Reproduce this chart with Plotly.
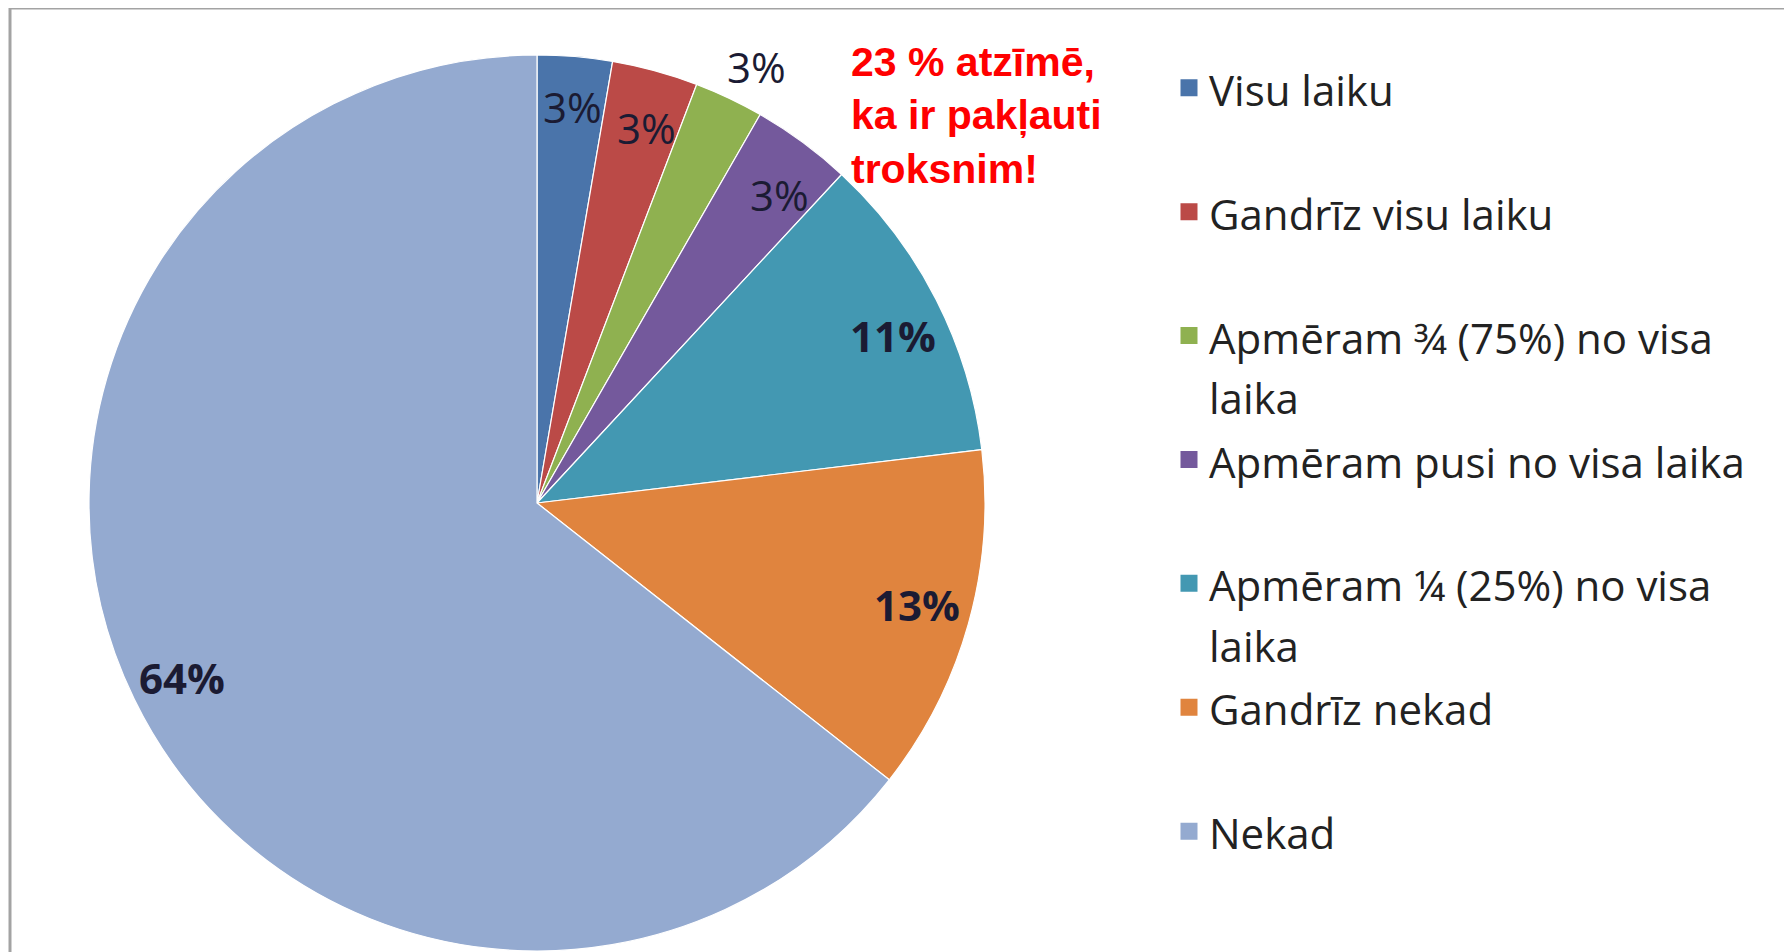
import math
import plotly.graph_objects as go

# ---- data ----
categories = [
    "Visu laiku",
    "Gandrīz visu laiku",
    "Apmēram ¾ (75%) no visa laika",
    "Apmēram pusi no visa laika",
    "Apmēram ¼ (25%) no visa laika",
    "Gandrīz nekad",
    "Nekad",
]
values = [2.7, 3.1, 2.5, 3.6, 11.2, 12.5, 64.4]
value_labels = ["3%", "3%", "3%", "3%", "11%", "13%", "64%"]
legend_labels = [
    "Visu laiku",
    "Gandrīz visu laiku",
    "Apmēram ¾ (75%) no visa<br>laika",
    "Apmēram pusi no visa laika",
    "Apmēram ¼ (25%) no visa<br>laika",
    "Gandrīz nekad",
    "Nekad",
]
callout_lines = ["23 % atzīmē,", "ka ir pakļauti", "troksnim!"]

# ---- style ----
OFF = 8                     # default page body margin
W, H = 1792 - OFF, 952 - OFF  # figure size
colors = ["#4A74AA", "#BB4A47", "#8FB150", "#74599C", "#4398B2", "#E0843E", "#94AAD0"]
label_bold = [False, False, False, False, True, True, True]
label_radius = [0.90, 0.88, 1.09, 0.87, 0.85, 0.84, 0.84]
label_yshift = [-5, -5, -5, -5, -5, 0, -10]
LABEL_SX = 1.05
CX, CY, R = 537, 503, 448  # pie centre / radius in screen pixels


def px(x):
    return min(1.0, max(0.0, (x - OFF) / W))


def py(y):
    return min(1.0, max(0.0, 1 - (y - OFF) / H))


def legend_text(t):
    if "<br>" not in t:
        t = t + "<br>&nbsp;"
    parts = t.split("<br>")
    return "<br>".join('<span style="font-size:42px">' + p + "</span>" for p in parts)


labels = [legend_text(c) for c in legend_labels]

fig = go.Figure()
# legend carrier (hidden behind the main pie)
fig.add_trace(go.Pie(
    labels=labels, values=values, sort=False, direction="clockwise", rotation=0,
    textinfo="none", hoverinfo="skip",
    marker=dict(colors=colors, line=dict(color=colors, width=5)),
    domain=dict(x=[px(CX - 2), px(CX + 2)], y=[py(CY + 2), py(CY - 2)]),
    showlegend=True,
))
# main pie
fig.add_trace(go.Pie(
    labels=labels, values=values, sort=False, direction="clockwise", rotation=0,
    textinfo="none", hoverinfo="percent",
    marker=dict(colors=colors, line=dict(color="#FFFFFF", width=1.2)),
    domain=dict(x=[px(CX - R), px(CX + R)], y=[py(CY + R), py(CY - R)]),
    showlegend=False,
))

# slice labels, placed on each slice's mid angle
annotations = []
total = sum(values)
cum = 0.0
for v, lab, bold, rf, ys in zip(values, value_labels, label_bold, label_radius, label_yshift):
    mid = (cum + v / 2) / total * 2 * math.pi
    cum += v
    lx = CX + LABEL_SX * rf * R * math.sin(mid)
    ly = CY - rf * R * math.cos(mid)
    annotations.append(dict(
        x=px(lx), y=py(ly), xref="paper", yref="paper",
        text=("<b>%s</b>" % lab) if bold else lab, showarrow=False,
        xanchor="center", yanchor="middle", yshift=ys,
        font=dict(family="Open Sans", size=42, color="#1B1B33"),
    ))

annotations.append(dict(
    x=px(849), y=py(37), xref="paper", yref="paper",
    text="<br>".join(callout_lines), showarrow=False,
    xanchor="left", yanchor="top", align="left",
    font=dict(family="Liberation Sans", size=41, color="#FF0000", weight="bold"),
))

fig.update_layout(
    width=W, height=H,
    margin=dict(l=0, r=0, t=0, b=0),
    paper_bgcolor="#FFFFFF",
    plot_bgcolor="#FFFFFF",
    legend=dict(
        x=px(1169), xanchor="left",
        y=py(51), yanchor="top",
        valign="top",
        font=dict(family="Open Sans", size=46.5, color="#222222"),
        bgcolor="rgba(0,0,0,0)",
        traceorder="normal",
    ),
    annotations=annotations,
    shapes=[
        dict(type="line", xref="paper", yref="paper", x0=px(10), x1=1.0, y0=py(7.5), y1=py(7.5),
             line=dict(color="#A3A3A3", width=3)),
        dict(type="line", xref="paper", yref="paper", x0=px(10), x1=px(10), y0=0, y1=py(7.5),
             line=dict(color="#A3A3A3", width=3)),
    ],
)

fig.write_html("out.html")
